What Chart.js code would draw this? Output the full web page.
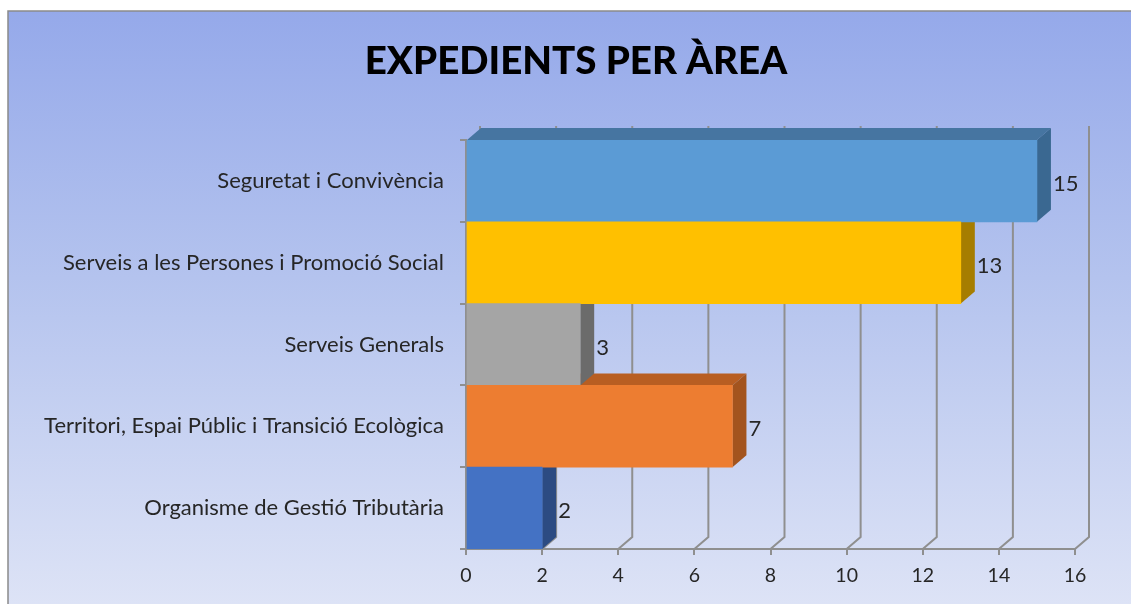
<!DOCTYPE html>
<html>
<head>
<meta charset="utf-8">
<script src="https://cdn.jsdelivr.net/npm/chart.js@4.4.0/dist/chart.umd.min.js"></script>
<style>
    html, body { margin: 0; padding: 0; background: #ffffff; }
    canvas { display: block; }
</style>
</head>
<body>
<canvas id="AreaBarChart" width="1131" height="604"></canvas>
<script>
// data
const chartTitle = "EXPEDIENTS PER ÀREA";
const areaLabels = [
    "Seguretat i Convivència",
    "Serveis a les Persones i Promoció Social",
    "Serveis Generals",
    "Territori, Espai Públic i Transició Ecològica",
    "Organisme de Gestió Tributària"
];
const areaValues = [15, 13, 3, 7, 2];
const xTickValues = [0, 2, 4, 6, 8, 10, 12, 14, 16];

// colours: front face, right face, top face
const frontColors = ["#5B9BD5", "#FFC000", "#A5A5A5", "#ED7D31", "#4472C4"];
const sideColors = ["#3A6891", "#A67D00", "#6B6B6B", "#A3541E", "#2C4B82"];
const topColors = ["#4675A1", "#C99700", "#858585", "#B85E22", "#36599A"];

// 3d depth offset (pixels)
const depthX = 14;
const depthY = 12;
const lineGray = "#8F8F8F";

const fake3d = {
    id: "fake3d",
    beforeDraw: function (chart) {
        const ctx = chart.ctx;
        ctx.save();
        ctx.fillStyle = "#ffffff";
        ctx.fillRect(0, 0, chart.width, chart.height);
        const grad = ctx.createLinearGradient(0, 11, 0, chart.height);
        grad.addColorStop(0, "#95A9EA");
        grad.addColorStop(0.45, "#B4C3EE");
        grad.addColorStop(1, "#DDE3F6");
        ctx.fillStyle = grad;
        ctx.fillRect(8, 11, chart.width - 8, chart.height - 11);
        ctx.strokeStyle = "#8a8a8a";
        ctx.lineWidth = 1.5;
        ctx.beginPath();
        ctx.moveTo(8, chart.height);
        ctx.lineTo(8, 11);
        ctx.lineTo(chart.width, 11);
        ctx.stroke();
        // title (centred on the frame, not the canvas)
        ctx.font = "900 38.5px Lato";
        ctx.fillStyle = "#000000";
        ctx.textAlign = "center";
        ctx.textBaseline = "middle";
        ctx.fillText(chartTitle, 576, 62);
        ctx.restore();
    },
    beforeDatasetsDraw: function (chart) {
        const ctx = chart.ctx;
        const area = chart.chartArea;
        const xScale = chart.scales.x;
        ctx.save();
        // floor diagonals + back wall gridlines
        ctx.strokeStyle = lineGray;
        ctx.lineWidth = 2;
        xTickValues.forEach(function (v) {
            const px = xScale.getPixelForValue(v);
            ctx.beginPath();
            ctx.moveTo(px, area.bottom);
            ctx.lineTo(px + depthX, area.bottom - depthY);
            ctx.lineTo(px + depthX, area.top - depthY - 2);
            ctx.stroke();
        });
        // top and right faces of bars, bottom bar first
        const meta = chart.getDatasetMeta(0);
        for (let i = meta.data.length - 1; i >= 0; i--) {
            const bar = meta.data[i].getProps(["x", "y", "base", "height"], true);
            const yt = bar.y - bar.height / 2;
            const yb = bar.y + bar.height / 2;
            ctx.fillStyle = topColors[i];
            ctx.beginPath();
            ctx.moveTo(bar.base, yt);
            ctx.lineTo(bar.x, yt);
            ctx.lineTo(bar.x + depthX, yt - depthY);
            ctx.lineTo(bar.base + depthX, yt - depthY);
            ctx.closePath();
            ctx.fill();
            ctx.fillStyle = sideColors[i];
            ctx.beginPath();
            ctx.moveTo(bar.x, yt);
            ctx.lineTo(bar.x, yb);
            ctx.lineTo(bar.x + depthX, yb - depthY);
            ctx.lineTo(bar.x + depthX, yt - depthY);
            ctx.closePath();
            ctx.fill();
        }
        ctx.restore();
    },
    afterDatasetsDraw: function (chart) {
        const ctx = chart.ctx;
        const meta = chart.getDatasetMeta(0);
        ctx.save();
        ctx.font = "22px Lato";
        ctx.fillStyle = "#262626";
        ctx.textAlign = "left";
        ctx.textBaseline = "middle";
        meta.data.forEach(function (el, i) {
            const bar = el.getProps(["x", "y"], true);
            ctx.fillText(String(areaValues[i]), bar.x + depthX + 2, bar.y + 3);
        });
        ctx.restore();
    }
};

const areaChart = new Chart(document.getElementById("AreaBarChart"), {
    type: "bar",
    data: {
        labels: areaLabels,
        datasets: [
            {
                label: "Expedients",
                data: areaValues,
                backgroundColor: frontColors,
                borderWidth: 0,
                barPercentage: 1,
                categoryPercentage: 1
            }
        ]
    },
    options: {
        indexAxis: "y",
        responsive: false,
        animation: false,
        devicePixelRatio: 1,
        layout: {
            padding: { left: 0, right: 56, top: 140, bottom: 0 }
        },
        plugins: {
            legend: { display: false },
            tooltip: { enabled: false },
            title: { display: false }
        },
        scales: {
            x: {
                min: 0,
                max: 16,
                afterBuildTicks: function (scale) {
                    scale.ticks = xTickValues.map(function (v) { return { value: v }; });
                },
                afterFit: function (scale) {
                    scale.height = 55;
                },
                grid: {
                    drawOnChartArea: false,
                    drawTicks: true,
                    tickLength: 6,
                    color: lineGray,
                    lineWidth: 2
                },
                border: { display: true, color: lineGray, width: 2 },
                ticks: {
                    color: "#262626",
                    padding: 9,
                    font: { family: "Lato", size: 19.5 }
                }
            },
            y: {
                afterFit: function (scale) {
                    scale.width = 466;
                },
                grid: {
                    offset: true,
                    drawOnChartArea: false,
                    drawTicks: true,
                    tickLength: 6,
                    color: lineGray,
                    lineWidth: 2
                },
                border: { display: true, color: lineGray, width: 2 },
                ticks: {
                    color: "#262626",
                    padding: 16,
                    font: { family: "Lato", size: 22 }
                }
            }
        }
    },
    plugins: [fake3d]
});
</script>
</body>
</html>
